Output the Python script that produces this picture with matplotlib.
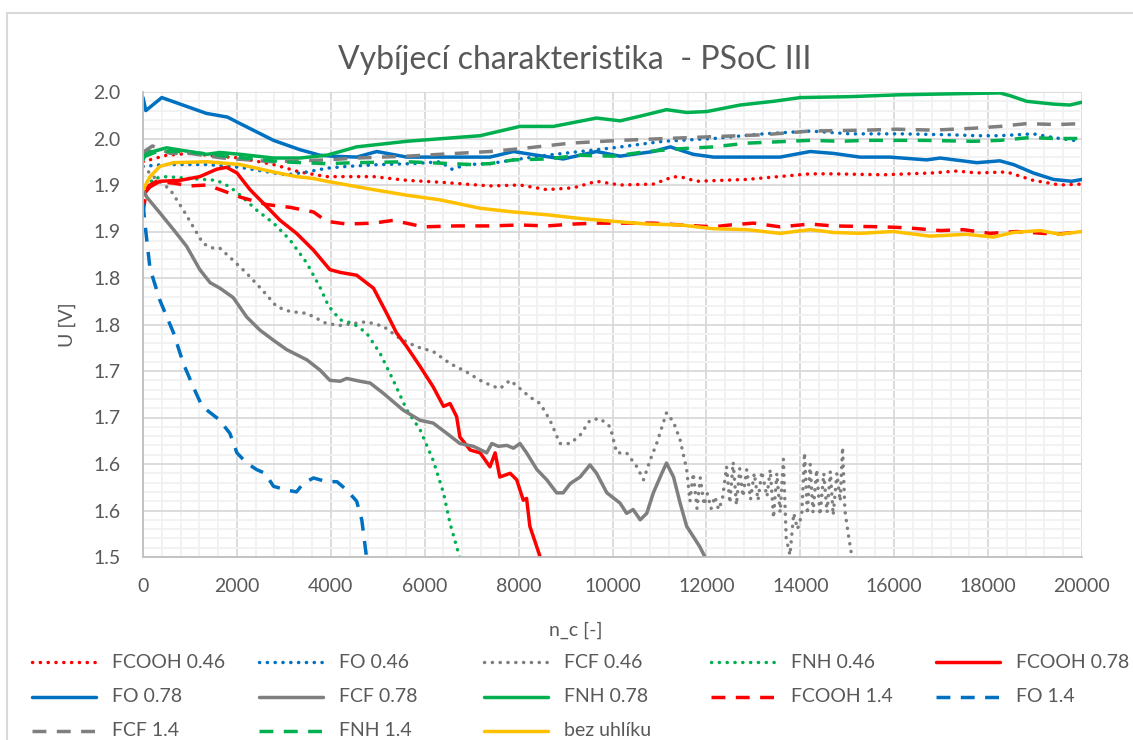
import matplotlib
matplotlib.use('Agg')
import matplotlib.pyplot as plt
from matplotlib.ticker import MultipleLocator, FixedLocator
from matplotlib.lines import Line2D

plt.rcParams['font.family'] = ['Lato', 'DejaVu Sans']

TEXT = '#595959'
RED = '#FF0000'
BLUE = '#0070C0'
GRAY = '#7F7F7F'
GREEN = '#00B050'
GOLD = '#FFC000'

# cycle counts [-] and cell voltage [V] for every electrode
fcooh046_x = [0, 500, 1000, 1570, 2070, 2780, 3340, 3910, 4910, 5620, 6330, 7390, 8030, 8600, 9170, 9660,
              10160, 10870, 11300, 11510, 11790, 12860, 14210, 14700, 15770, 16830, 17330, 17760, 18400,
              18960, 19530, 20000]
fcooh046_y = [1.925, 1.932, 1.934, 1.931, 1.929, 1.922, 1.914, 1.909, 1.909, 1.905, 1.903, 1.899, 1.900,
              1.895, 1.897, 1.904, 1.900, 1.901, 1.909, 1.908, 1.904, 1.906, 1.912, 1.912, 1.911, 1.913,
              1.915, 1.913, 1.914, 1.905, 1.900, 1.901]

fo046_x = [0, 430, 1360, 2070, 2780, 3060, 3490, 3910, 4340, 5050, 5760, 6330, 6580, 6900, 7390, 7890, 8600,
           10020, 11080, 12150, 13210, 14210, 15060, 16120, 17190, 17760, 18250, 18960, 19390, 19960]
fo046_y = [1.920, 1.922, 1.922, 1.919, 1.913, 1.911, 1.914, 1.918, 1.920, 1.922, 1.923, 1.925, 1.917, 1.922,
           1.923, 1.927, 1.932, 1.940, 1.947, 1.950, 1.955, 1.958, 1.955, 1.955, 1.954, 1.953, 1.953, 1.955,
           1.951, 1.947]

fcf046_x = [0, 220, 580, 860, 1070, 1280, 1500, 1640, 1920, 2210, 2560, 2850, 3130, 3490, 3910, 4200, 4480,
            4760, 5120, 5470, 5830, 6180, 6540, 6890, 7180, 7390, 7600, 7820, 8030, 8240, 8460, 8670, 8880,
            9100, 9310, 9520, 9730, 9950, 10090, 10300, 10520, 10660, 10800, 10940, 11150, 11300, 11440,
            11580, 11650, 11720, 11800, 11870, 11950, 12020, 12100, 12180, 12260, 12340, 12430, 12500,
            12570, 12640, 12710, 12780, 12860, 12940, 13020, 13100, 13180, 13290, 13360, 13430, 13500,
            13570, 13640, 13700, 13780, 13860, 13940, 14030, 14090, 14150, 14210, 14270, 14350, 14420,
            14500, 14570, 14640, 14700, 14780, 14850, 14900, 14950, 15020, 15100]
fcf046_y = [1.920, 1.909, 1.895, 1.873, 1.855, 1.837, 1.832, 1.832, 1.819, 1.805, 1.786, 1.769, 1.764,
            1.762, 1.751, 1.749, 1.751, 1.753, 1.748, 1.735, 1.726, 1.721, 1.708, 1.699, 1.690, 1.685,
            1.681, 1.690, 1.681, 1.672, 1.665, 1.647, 1.622, 1.622, 1.631, 1.647, 1.649, 1.640, 1.612,
            1.612, 1.597, 1.583, 1.604, 1.622, 1.655, 1.645, 1.626,
            1.594, 1.560, 1.590, 1.552, 1.585, 1.556, 1.568, 1.552, 1.565, 1.551, 1.562, 1.597, 1.558,
            1.602, 1.556, 1.595, 1.565, 1.594, 1.562, 1.590, 1.561, 1.592, 1.565, 1.594, 1.542, 1.590,
            1.548, 1.605, 1.520, 1.502, 1.547, 1.530, 1.545, 1.612, 1.546, 1.600, 1.548, 1.594, 1.545,
            1.590, 1.548, 1.592, 1.545, 1.590, 1.560, 1.618, 1.550, 1.525, 1.500]

fnh046_x = [0, 220, 500, 1000, 1570, 1850, 2070, 2420, 2780, 3130, 3490, 3770, 3950, 4200, 4480, 4760, 5050,
            5330, 5620, 5900, 6180, 6400, 6540, 6720, 6760]
fnh046_y = [1.890, 1.907, 1.909, 1.907, 1.905, 1.898, 1.889, 1.873, 1.859, 1.841, 1.816, 1.790, 1.770,
            1.755, 1.751, 1.741, 1.719, 1.690, 1.658, 1.637, 1.604, 1.569, 1.536, 1.504, 1.496]

fcooh078_x = [0, 150, 360, 790, 1210, 1570, 1780, 2000, 2280, 2630, 2920, 3270, 3630, 3980, 4200, 4550,
              4910, 5190, 5400, 5620, 5900, 6180, 6400, 6540, 6680, 6750, 6970, 7180, 7390, 7500, 7600,
              7820, 7960, 8100, 8170, 8240, 8460, 8500]
fcooh078_y = [1.889, 1.898, 1.904, 1.905, 1.909, 1.917, 1.919, 1.913, 1.895, 1.877, 1.862, 1.848, 1.830,
              1.809, 1.806, 1.803, 1.789, 1.762, 1.741, 1.726, 1.705, 1.683, 1.662, 1.665, 1.651, 1.629,
              1.615, 1.612, 1.597, 1.612, 1.586, 1.590, 1.583, 1.561, 1.563, 1.533, 1.500, 1.494]

fo078_x = [0, 60, 400, 1350, 1800, 2070, 2780, 3340, 3770, 4020, 4550, 4980, 5620, 7390, 7890, 8390, 8950,
           9660, 10160, 10870, 11230, 11720, 12150, 13570, 14210, 14700, 15270, 15910, 16690, 16980, 17760,
           18250, 18540, 18960, 19390, 19780, 20000]
fo078_y = [1.994, 1.980, 1.994, 1.977, 1.973, 1.966, 1.948, 1.938, 1.932, 1.931, 1.930, 1.936, 1.930,
           1.930, 1.936, 1.932, 1.928, 1.936, 1.931, 1.936, 1.941, 1.933, 1.930, 1.930, 1.936, 1.934,
           1.930, 1.930, 1.927, 1.929, 1.924, 1.926, 1.922, 1.913, 1.906, 1.904, 1.906]

fcf078_x = [0, 80, 360, 650, 930, 1210, 1430, 1640, 1920, 2210, 2490, 2780, 3060, 3490, 3770, 3980, 4200,
            4340, 4620, 4840, 5120, 5540, 5900, 6180, 6470, 6750, 7040, 7320, 7430, 7570, 7750, 7890, 8030,
            8170, 8390, 8600, 8810, 8950, 9100, 9310, 9520, 9660, 9880, 10160, 10300, 10440, 10590, 10730,
            10870, 11050, 11150, 11300, 11440, 11580, 11720, 11860, 11970, 12010]
fcf078_y = [1.895, 1.887, 1.870, 1.852, 1.834, 1.809, 1.795, 1.789, 1.779, 1.758, 1.744, 1.733, 1.723,
            1.712, 1.701, 1.690, 1.689, 1.692, 1.689, 1.687, 1.676, 1.658, 1.647, 1.644, 1.633, 1.622,
            1.619, 1.612, 1.622, 1.619, 1.620, 1.617, 1.622, 1.612, 1.594, 1.583, 1.569, 1.569, 1.579,
            1.586, 1.599, 1.590, 1.569, 1.558, 1.547, 1.551, 1.540, 1.547, 1.569, 1.590, 1.601, 1.586,
            1.558, 1.533, 1.522, 1.511, 1.500, 1.495]

fnh078_x = [0, 80, 220, 500, 860, 1360, 1640, 2070, 2780, 3340, 3910, 4200, 4550, 5620, 7180, 8030, 8740,
            9660, 10160, 10590, 11150, 11580, 12010, 12720, 13430, 14000, 15060, 16120, 17190, 18250,
            18470, 18820, 19390, 19740, 20000]
fnh078_y = [1.927, 1.936, 1.936, 1.940, 1.937, 1.933, 1.935, 1.933, 1.929, 1.929, 1.932, 1.936, 1.941,
            1.947, 1.953, 1.963, 1.963, 1.972, 1.969, 1.974, 1.981, 1.978, 1.979, 1.986, 1.990, 1.994,
            1.995, 1.997, 1.998, 1.999, 1.996, 1.990, 1.987, 1.986, 1.989]

fcooh14_x = [0, 80, 290, 650, 1000, 1360, 1640, 2070, 2630, 3130, 3630, 3910, 4340, 4910, 5330, 5970, 6680,
             7390, 8030, 8600, 9170, 9660, 10870, 11450, 12150, 12500, 13000, 13570, 14210, 14700, 15770,
             16270, 16980, 17470, 18040, 18610, 19460, 20000]
fcooh14_y = [1.870, 1.898, 1.904, 1.902, 1.899, 1.900, 1.895, 1.887, 1.879, 1.876, 1.871, 1.861, 1.858,
             1.859, 1.862, 1.855, 1.856, 1.856, 1.857, 1.856, 1.858, 1.859, 1.859, 1.857, 1.855, 1.857,
             1.859, 1.855, 1.858, 1.856, 1.855, 1.854, 1.851, 1.852, 1.848, 1.850, 1.847, 1.850]

fo14_x = [0, 60, 150, 360, 650, 860, 1070, 1250, 1360, 1640, 1710, 1850, 2000, 2210, 2420, 2600, 2780, 3060,
          3270, 3410, 3630, 3910, 4130, 4340, 4550, 4660, 4750, 4770]
fo14_y = [1.880, 1.850, 1.810, 1.776, 1.741, 1.708, 1.683, 1.663, 1.658, 1.647, 1.642, 1.633, 1.612, 1.601,
          1.594, 1.590, 1.576, 1.572, 1.570, 1.579, 1.585, 1.581, 1.581, 1.572, 1.560, 1.540, 1.504, 1.498]

fcf14_x = [0, 200, 580, 1000, 1700, 2770, 3910, 4550, 5620, 7390, 8030, 9100, 10160, 11150, 12150, 13210,
           14210, 15410, 16050, 16830, 17680, 18250, 18820, 19460, 20000]
fcf14_y = [1.935, 1.942, 1.934, 1.934, 1.929, 1.925, 1.927, 1.929, 1.931, 1.936, 1.939, 1.945, 1.948, 1.950,
           1.952, 1.954, 1.958, 1.959, 1.960, 1.959, 1.961, 1.963, 1.966, 1.965, 1.966]

fnh14_x = [0, 300, 900, 1600, 2920, 3910, 4550, 5620, 7000, 7390, 7890, 8600, 9310, 10020, 10730, 11450,
           12150, 12860, 14210, 14850, 15410, 16620, 17690, 18250, 18890, 19390, 20000]
fnh14_y = [1.930, 1.936, 1.936, 1.932, 1.925, 1.923, 1.924, 1.925, 1.922, 1.923, 1.927, 1.928, 1.932, 1.931,
           1.936, 1.939, 1.941, 1.945, 1.948, 1.947, 1.948, 1.948, 1.947, 1.948, 1.951, 1.950, 1.950]

bez_x = [0, 150, 360, 650, 1360, 2070, 2780, 3270, 3630, 3910, 4910, 5620, 6330, 7180, 7890, 8600, 9310,
         10020, 10730, 11450, 12150, 12860, 13570, 14210, 14700, 15270, 15980, 16760, 17540, 18110, 18540,
         19110, 19530, 20000]
bez_y = [1.895, 1.909, 1.920, 1.924, 1.925, 1.922, 1.914, 1.909, 1.907, 1.904, 1.895, 1.889, 1.884, 1.875,
         1.871, 1.868, 1.864, 1.861, 1.858, 1.857, 1.853, 1.852, 1.848, 1.852, 1.849, 1.848, 1.850, 1.845,
         1.847, 1.844, 1.849, 1.851, 1.847, 1.850]

x_ticks = list(range(0, 20001, 2000))
y_ticks = [1.50, 1.55, 1.60, 1.65, 1.70, 1.75, 1.80, 1.85, 1.90, 1.95, 2.00]
y_tick_labels = ['1.5', '1.6', '1.6', '1.7', '1.7', '1.8', '1.8', '1.9', '1.9', '2.0', '2.0']

series = [
    ('FCOOH 0.46', fcooh046_x, fcooh046_y, RED, 'dot'),
    ('FO 0.46', fo046_x, fo046_y, BLUE, 'dot'),
    ('FCF 0.46', fcf046_x, fcf046_y, GRAY, 'dot'),
    ('FNH 0.46', fnh046_x, fnh046_y, GREEN, 'dot'),
    ('FCOOH 0.78', fcooh078_x, fcooh078_y, RED, 'solid'),
    ('FO 0.78', fo078_x, fo078_y, BLUE, 'solid'),
    ('FCF 0.78', fcf078_x, fcf078_y, GRAY, 'solid'),
    ('FNH 0.78', fnh078_x, fnh078_y, GREEN, 'solid'),
    ('FCOOH 1.4', fcooh14_x, fcooh14_y, RED, 'dash'),
    ('FO 1.4', fo14_x, fo14_y, BLUE, 'dash'),
    ('FCF 1.4', fcf14_x, fcf14_y, GRAY, 'dash'),
    ('FNH 1.4', fnh14_x, fnh14_y, GREEN, 'dash'),
    ('bez uhlíku', bez_x, bez_y, GOLD, 'solid'),
]

LW = 2.5


def line_style(kind):
    if kind == 'dot':
        return dict(linestyle=(0, (0.05, 2.2)), dash_capstyle='round')
    if kind == 'dash':
        return dict(linestyle=(0, (4, 3)), dash_capstyle='butt')
    return dict(linestyle='-', solid_capstyle='round', solid_joinstyle='round')


W, H = 1133, 740
fig = plt.figure(figsize=(W / 100, H / 100), dpi=100)
ax = fig.add_axes([143 / W, 1 - 557 / H, 939 / W, 465 / H])

for label, xs, ys, color, kind in series:
    ax.plot(xs, ys, color=color, lw=LW, label=label, **line_style(kind))

ax.set_xlim(0, 20000)
ax.set_ylim(1.5, 2.0)
ax.set_xticks(x_ticks)
ax.set_xticklabels([str(v) for v in x_ticks])
ax.yaxis.set_major_locator(FixedLocator(y_ticks))
ax.set_yticklabels(y_tick_labels)
ax.xaxis.set_minor_locator(MultipleLocator(400))
ax.yaxis.set_minor_locator(MultipleLocator(0.01))

ax.grid(which='minor', color='#F2F2F2', lw=1.4)
ax.grid(which='major', color='#D9D9D9', lw=1.3)
ax.set_axisbelow(True)
for side in ('top', 'right'):
    ax.spines[side].set_visible(False)
for side in ('left', 'bottom'):
    ax.spines[side].set_color('#BFBFBF')
    ax.spines[side].set_linewidth(1.3)

ax.tick_params(which='both', length=0)
ax.tick_params(axis='x', pad=15, labelsize=14, labelcolor=TEXT)
ax.tick_params(axis='y', pad=16, labelsize=14, labelcolor=TEXT)

ax.set_xlabel('n_c [-]', fontsize=14, color=TEXT, va='center')
ax.xaxis.set_label_coords((576 - 143) / 939, -(630 - 557) / 465)
ax.set_ylabel('U [V]', fontsize=14, color=TEXT, va='center')
ax.yaxis.set_label_coords(-(143 - 67) / 939, 0.5)

fig.text(575 / W, 1 - 60 / H, 'Vybíjecí charakteristika  - PSoC III',
         ha='center', va='center', fontsize=23, color=TEXT)

# legend laid out row by row in five equal columns
col_x = [32, 259, 484, 711, 936]
row_y = [662, 697, 731]
for i, (label, xs, ys, color, kind) in enumerate(series):
    r, c = divmod(i, 5)
    x0, y0 = col_x[c], row_y[r]
    fig.add_artist(Line2D([x0 / W, (x0 + 64) / W], [1 - y0 / H, 1 - y0 / H],
                          color=color, lw=LW, **line_style(kind)))
    fig.text((x0 + 80) / W, 1 - y0 / H, label, ha='left', va='center',
             fontsize=14, color=TEXT)

# chart area border
fig.add_artist(Line2D([7 / W, 7 / W], [0, 1 - 13 / H], color='#D9D9D9', lw=1.5))
fig.add_artist(Line2D([7 / W, 1], [1 - 13 / H, 1 - 13 / H], color='#D9D9D9', lw=1.5))

fig.savefig('out.png', dpi=100)
